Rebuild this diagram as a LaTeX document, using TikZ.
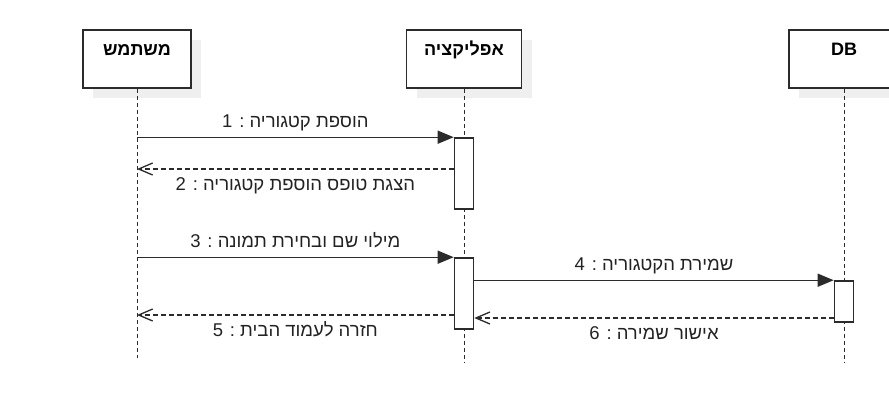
\documentclass[tikz,border=0pt]{standalone}
\usepackage{fontspec}
\setmainfont{Liberation Sans}
\newfontfamily\hebfont[Script=Hebrew]{Liberation Sans}
\TeXXeTstate=1
\usepackage{tikz}
\usetikzlibrary{arrows.meta, positioning, shadows}
\definecolor{linegray}{HTML}{2B2B2B}
\definecolor{shadowgray}{HTML}{EFEFEF}
\definecolor{textgray}{HTML}{222222}

\begin{document}
\begin{tikzpicture}[
  x=1pt, y=-1pt,
  head/.style={draw=linegray, fill=white, line width=1.6pt,
              minimum height=58pt, text height=12pt, text depth=20pt,
              font=\fontsize{18}{21}\hebfont\bfseries, text=black,
              drop shadow={shadow xshift=10pt, shadow yshift=-10pt,
                           fill=shadowgray, opacity=1}},
  act/.style={draw=linegray, fill=white, line width=1.6pt,
              minimum width=19pt, inner sep=0pt},
  lifeline/.style={draw=linegray, line width=1pt, dash pattern=on 4pt off 3pt},
  msg/.style={draw=linegray, line width=1.4pt, -{Triangle[length=16pt, width=13pt]}},
  reply/.style={draw=linegray, line width=1.3pt, dash pattern=on 5pt off 3pt,
              -{Straight Barb[length=14pt, width=12pt]}},
  lbl/.style={font=\fontsize{18.5}{22}\hebfont, text=textgray, inner sep=0pt,
              text height=12pt, text depth=3pt}
]
  \useasboundingbox (0,0) rectangle (889,408);
  \clip (0,0) rectangle (889,408);

  % Participants
  \node[head, minimum width=108pt] (user) at (137,59) {\beginR משתמש\endR};
  \node[head, minimum width=115pt] (app) at (464,59) {\beginR אפליקציה\endR};
  \node[head, minimum width=110pt] (db) at (844,59) {DB};

  \draw[lifeline] (user.south) -- (user |- 0,358);
  \draw[lifeline] (app.south) -- (app |- 0,362);
  \draw[lifeline] (db.south) -- (db |- 0,362);

  % Activations
  \node[act, minimum height=71pt] (act1) at (464,173.5) {};
  \node[act, minimum height=71pt] (act2) at (464,293.5) {};
  \node[act, minimum height=41pt] (act3) at (844,301.5) {};

  % Add category
  \draw[msg] (user |- act1.north) --
    node[lbl, above=6pt] {\beginR הוספת קטגוריה : 1\endR} (act1.north west);
  \draw[reply] (act1.west |- 0,169) --
    node[lbl, below=9pt] {\beginR הצגת טופס הוספת קטגוריה : 2\endR} (user |- 0,169);

  % Save category
  \draw[msg] (user |- act2.north) --
    node[lbl, above=6pt] {\beginR מילוי שם ובחירת תמונה : 3\endR} (act2.north west);
  \draw[msg] (act2.east |- act3.north) --
    node[lbl, above=6pt] {\beginR שמירת הקטגוריה : 4\endR} (act3.north west);
  \draw[reply] (act2.west |- 0,315) --
    node[lbl, below=9pt] {\beginR חזרה לעמוד הבית : 5\endR} (user |- 0,315);
  \draw[reply] (act3.west |- 0,318) --
    node[lbl, below=9pt] {\beginR אישור שמירה : 6\endR} (act2.east |- 0,318);
\end{tikzpicture}
\end{document}
